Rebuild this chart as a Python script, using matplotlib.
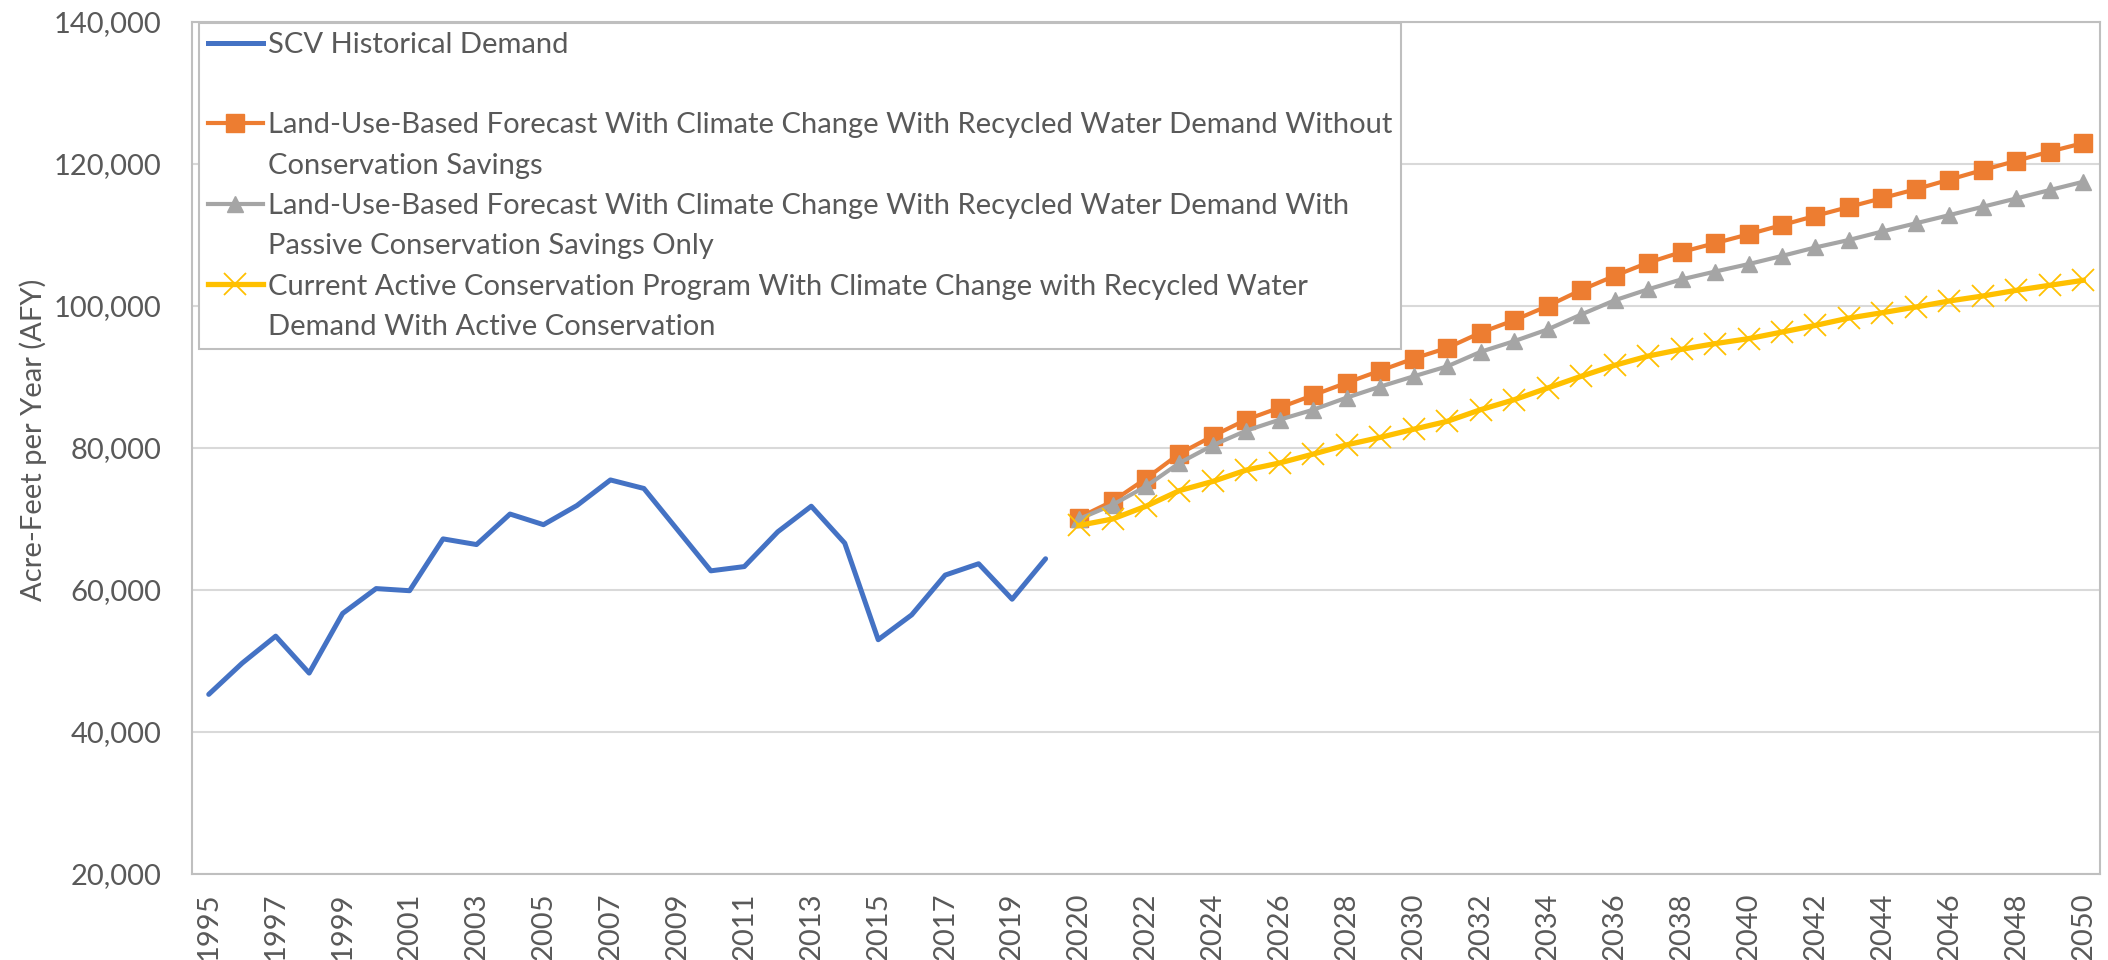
import matplotlib
matplotlib.use("Agg")
import matplotlib.pyplot as plt
from matplotlib.lines import Line2D
from matplotlib.ticker import FuncFormatter

# ---------------- data ----------------
hist_years = list(range(1995, 2021))
fcst_years = list(range(2020, 2051))
categories = hist_years + fcst_years          # 2020 appears twice (Excel categories)

historical = [45300, 49700, 53500, 48300, 56700, 60200, 59900, 67200, 66400, 70700,
              69200, 71900, 75500, 74300, 68500, 62700, 63300, 68200, 71800, 66600,
              53000, 56500, 62100, 63700, 58700, 64400]

no_conservation = [70200, 72500, 75700, 79200, 81700, 84000, 85700, 87450, 89200, 90900,
                   92600, 94100, 96250, 98000, 100000, 102250, 104250, 106100, 107600, 108850,
                   110100, 111400, 112700, 113950, 115200, 116450, 117800, 119150, 120450, 121750,
                   122950]

passive = [70000, 72000, 74600, 77900, 80400, 82450, 84000, 85400, 87100, 88650,
           90100, 91500, 93550, 95050, 96700, 98800, 100800, 102350, 103750, 104850,
           105900, 107050, 108250, 109300, 110500, 111650, 112800, 113980, 115150, 116330,
           117500]

active = [69100, 70000, 71800, 74000, 75300, 76900, 77900, 79150, 80450, 81500,
          82650, 83760, 85400, 86800, 88450, 90100, 91650, 92950, 93900, 94700,
          95400, 96330, 97270, 98300, 99060, 99860, 100710, 101410, 102210, 102920,
          103620]

legend_labels = [
    "SCV Historical Demand",
    " ",
    "Land-Use-Based Forecast With Climate Change With Recycled Water Demand Without",
    "Conservation Savings",
    "Land-Use-Based Forecast With Climate Change With Recycled Water Demand With",
    "Passive Conservation Savings Only",
    "Current Active Conservation Program With Climate Change with Recycled Water",
    "Demand With Active Conservation",
]
y_label = "Acre-Feet per Year (AFY)"
y_ticks = [20000, 40000, 60000, 80000, 100000, 120000, 140000]

# ---------------- style ----------------
BLUE = "#4472C4"
ORANGE = "#ED7D31"
GRAY = "#A5A5A5"
YELLOW = "#FFC000"
TEXT = "#595959"
GRID = "#D9D9D9"
SPINE = "#BFBFBF"

plt.rcParams["font.family"] = ["Lato", "DejaVu Sans"]
FS = 21

W, H = 2108, 960
fig = plt.figure(figsize=(W / 100, H / 100), dpi=100)
ax = fig.add_axes([192 / W, 1 - 874 / H, (2100 - 192) / W, (874 - 22) / H])

hist_x = list(range(len(hist_years)))
fcst_x = list(range(len(hist_years), len(categories)))

ax.plot(hist_x, historical, color=BLUE, lw=3.6, solid_capstyle="round", zorder=3)
ax.plot(fcst_x, no_conservation, color=ORANGE, lw=3.0, marker="s", ms=12.5,
        mec=ORANGE, mfc=ORANGE, zorder=4)
ax.plot(fcst_x, passive, color=GRAY, lw=3.0, marker="^", ms=12, mec=GRAY,
        mfc=GRAY, zorder=5)
ax.plot(fcst_x, active, color=YELLOW, lw=3.8, marker="x", ms=16, mew=1.3,
        mec=YELLOW, zorder=6)

ax.set_xlim(-0.5, len(categories) - 0.5)
ax.set_ylim(20000, 140000)
ax.set_yticks(y_ticks)
ax.yaxis.set_major_formatter(FuncFormatter(lambda v, p: f"{int(v):,}"))
tick_pos = list(range(0, len(categories), 2))
ax.set_xticks(tick_pos)
ax.set_xticklabels([str(categories[i]) for i in tick_pos], rotation=90)

ax.grid(axis="y", color=GRID, lw=1.5)
ax.set_axisbelow(True)
for s in ax.spines.values():
    s.set_color(SPINE)
    s.set_linewidth(1.5)
ax.tick_params(axis="both", length=0, colors=TEXT, labelsize=FS)
ax.tick_params(axis="y", pad=22)
ax.tick_params(axis="x", pad=13)

ax.set_ylabel(y_label, color=TEXT, fontsize=FS)
ax.yaxis.set_label_coords((47 - 192) / 1908, 0.51)

blank = Line2D([], [], color="none")
handles = [
    Line2D([], [], color=BLUE, lw=3.6),
    blank,
    Line2D([], [], color=ORANGE, lw=3.0, marker="s", ms=12.5),
    blank,
    Line2D([], [], color=GRAY, lw=3.0, marker="^", ms=12),
    blank,
    Line2D([], [], color=YELLOW, lw=3.8, marker="x", ms=16, mew=1.3),
    blank,
]
leg = fig.legend(handles, legend_labels, loc="upper left",
                 bbox_to_anchor=(199 / W, 1 - 23 / H), fontsize=FS,
                 frameon=True, fancybox=False, edgecolor=SPINE, framealpha=1,
                 handlelength=1.9, handletextpad=0.15, labelspacing=0.49,
                 borderpad=0.3, borderaxespad=0, numpoints=1)
leg.get_frame().set_linewidth(1.5)
for t in leg.get_texts():
    t.set_color(TEXT)

fig.savefig("out.png", dpi=100)
